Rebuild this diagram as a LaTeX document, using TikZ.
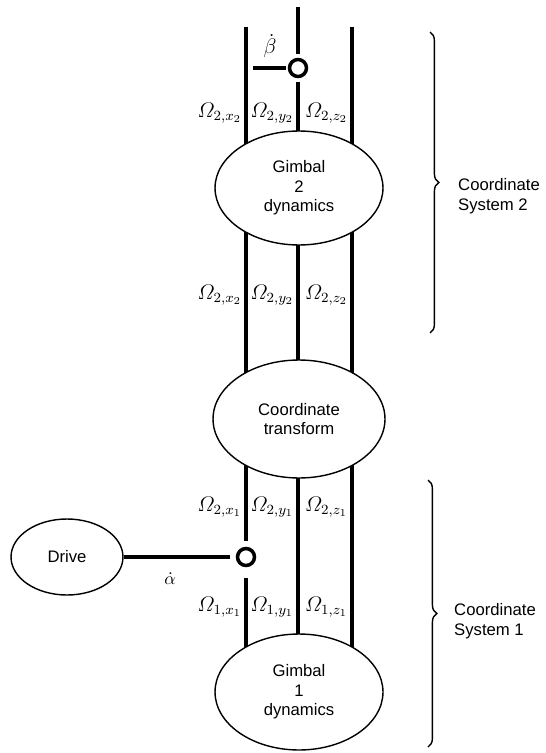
\documentclass[tikz,border=0pt]{standalone}
\usepackage{amsmath}
\usepackage{fontspec}
\setmainfont{Liberation Sans}
\usetikzlibrary{shapes.geometric,decorations.pathreplacing,positioning}
\pgfdeclarelayer{bg}
\pgfsetlayers{bg,main}
\tikzset{
  blk/.style={ellipse,draw,line width=0.8pt,fill=white,align=center,inner sep=0pt,
    font=\fontsize{9.5}{11}\selectfont},
  junc/.style={circle,draw,line width=2pt,minimum size=0.34cm,inner sep=0pt},
  sig/.style={line width=2.1pt},
  lbl/.style={anchor=east,inner sep=1pt,font=\fontsize{11.5}{13}\selectfont},
  grp/.style={decorate,decoration={brace,amplitude=5pt},line width=0.8pt},
  grptext/.style={anchor=west,align=left,font=\fontsize{9.5}{11.5}\selectfont}
}
\begin{document}
\begin{tikzpicture}[x=0.02cm,y=-0.02cm]
  \useasboundingbox (0,0) rectangle (545,753);
  \node[blk,minimum width=3.36cm,minimum height=2.28cm] (gim2) at (299,188) {Gimbal\\2\\dynamics};
  \node[blk,minimum width=3.44cm,minimum height=2.36cm] (ctr) at (299,419) {Coordinate\\transform};
  \node[blk,minimum width=3.36cm,minimum height=2.32cm] (gim1) at (299,692) {Gimbal\\1\\dynamics};
  \node[blk,minimum width=2.24cm,minimum height=1.52cm] (drv) at (67,557) {Drive};
  \node[junc] (bj) at (298,68) {};
  \node[junc] (aj) at (246,557) {};
  \coordinate (xtop) at (246,27);
  \coordinate (ytop) at (298,7);
  \coordinate (ztop) at (352,27);
  \coordinate (bin) at (253,68);
  \begin{pgfonlayer}{bg}
    \draw[sig] (xtop) -- (xtop |- gim2.center);
    \draw[sig] (ztop) -- (ztop |- gim2.center);
    \draw[sig,shorten >=2pt] (ytop) -- (bj);
    \draw[sig,shorten <=2pt] (bj) -- (bj |- gim2.center);
    \draw[sig,shorten >=1pt] (bin) -- (bj);
    \foreach \c in {xtop,ytop,ztop}
      \draw[sig] (\c |- gim2.center) -- (\c |- ctr.center);
    \draw[sig,shorten >=3pt] (aj |- ctr.center) -- (aj);
    \draw[sig,shorten <=6pt] (aj) -- (aj |- gim1.center);
    \draw[sig] (ytop |- ctr.center) -- (ytop |- gim1.center);
    \draw[sig] (ztop |- ctr.center) -- (ztop |- gim1.center);
    \draw[sig,shorten >=3pt] (drv) -- (aj);
  \end{pgfonlayer}
  \node[font=\large] (bdot) at (270,46) {$\dot\beta$};
  \node (adot) at (170,579) {$\dot\alpha$};
  \node[lbl] (wa) at (244,113) {$\varOmega_{2,x_2}$};
  \node[lbl] (wb) at (296,113) {$\varOmega_{2,y_2}$};
  \node[lbl] (wc) at (350,113) {$\varOmega_{2,z_2}$};
  \node[lbl] (wd) at (244,295) {$\varOmega_{2,x_2}$};
  \node[lbl] (we) at (296,295) {$\varOmega_{2,y_2}$};
  \node[lbl] (wf) at (350,295) {$\varOmega_{2,z_2}$};
  \node[lbl] (wg) at (244,507) {$\varOmega_{2,x_1}$};
  \node[lbl] (wh) at (296,507) {$\varOmega_{2,y_1}$};
  \node[lbl] (wi) at (350,507) {$\varOmega_{2,z_1}$};
  \node[lbl] (wj) at (244,607) {$\varOmega_{1,x_1}$};
  \node[lbl] (wk) at (296,607) {$\varOmega_{1,y_1}$};
  \node[lbl] (wl) at (350,607) {$\varOmega_{1,z_1}$};
  \coordinate (cs2a) at (430,32);
  \coordinate (cs2b) at (430,333);
  \coordinate (cs1a) at (428,480);
  \coordinate (cs1b) at (428,747);
  \draw[grp] (cs2a) -- (cs2b);
  \draw[grp] (cs1a) -- (cs1b);
  \node[grptext] (cs2) at (452,196) {Coordinate\\System 2};
  \node[grptext] (cs1) at (448,621) {Coordinate\\System 1};
\end{tikzpicture}
\end{document}
